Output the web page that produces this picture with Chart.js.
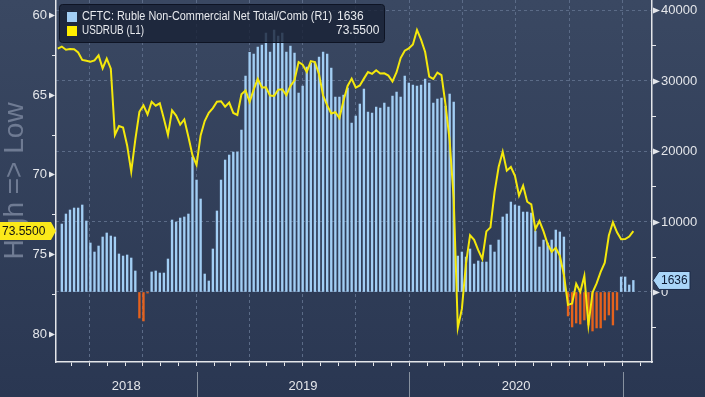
<!DOCTYPE html>
<html>
<head>
<meta charset="utf-8">
<script src="https://cdn.jsdelivr.net/npm/chart.js@4.4.1/dist/chart.umd.min.js"></script>
<style>
  html, body { margin: 0; padding: 0; background: #2f3c57; }
</style>
</head>
<body>
<canvas id="chart" width="705" height="397"></canvas>
<script>
// weekly CFTC report dates (Tuesdays) and weekly USDRUB closes
const cftcFirstDate = "2018-05-15";
const rubFirstDate = "2018-05-08";
const axisStart = "2018-05-05";
const axisEnd = "2021-02-20";

const cftcNet = [
  9640, 11060, 11630, 11910, 11910, 12340, 10070, 6950, 5670, 6520,
  7800, 8370, 7940, 7800, 5390, 5100, 5250, 4820, 2980, -3690,
  -4110, -150, 2840, 2980, 2690, 2690, 4680, 10210, 9930, 10490,
  10640, 11060, 19140, 15880, 13190, 2550, 1560, 6100, 11490, 15880,
  18720, 19430, 19850, 19850, 22970, 30630, 34000, 33750, 34740, 35020,
  36730, 34030, 37150, 36300, 36730, 34030, 34880, 33890, 28220, 29210,
  31910, 32470, 32610, 33320, 34030, 33750, 31760, 27650, 27650, 27930,
  28930, 23960, 24960, 26660, 28790, 25520, 25380, 26230, 26090, 26800,
  26230, 27790, 28360, 27650, 30630, 29640, 29350, 29210, 29350, 30200,
  29640, 26800, 27370, 27510, 26370, 28080, 26940, 5100, 5670, 4960,
  6100, 3970, 4400, 4250, 4250, 6660, 5670, 7370, 10640, 11060,
  12760, 12340, 12190, 11340, 11340, 11200, 8650, 6380, 7370, 6950,
  7370, 8790, 8510, 7800, -3400, -4960, -4400, -4540, -3970, -4680,
  -5530, -5100, -5100, -3970, -3260, -4680, -2550, 2130, 2130, 990,
  1636
];

const usdRub = [
  62.11, 61.98, 62.18, 62.13, 62.15, 62.35, 62.82, 62.87, 62.93, 62.85,
  62.53, 63.34, 62.73, 63.37, 67.52, 66.96, 67.06, 68.18, 69.82, 67.81,
  66.07, 65.67, 66.24, 65.44, 65.69, 65.54, 66.50, 67.52, 65.98, 66.31,
  66.87, 66.55, 67.63, 68.79, 69.40, 67.55, 66.65, 66.13, 65.84, 65.44,
  65.41, 65.75, 65.49, 66.14, 66.27, 64.97, 64.73, 65.45, 64.68, 64.00,
  64.54, 64.53, 65.05, 65.08, 64.68, 64.66, 65.03, 64.46, 64.09, 62.95,
  63.12, 63.57, 62.89, 62.95, 63.71, 65.05, 65.67, 66.18, 66.10, 66.46,
  65.38, 64.45, 63.99, 64.56, 64.42, 63.99, 63.58, 63.69, 63.47, 63.67,
  63.66, 63.80, 64.17, 63.59, 62.70, 62.24, 62.09, 61.85, 60.94, 61.55,
  62.32, 63.87, 64.01, 63.61, 63.77, 65.64, 67.87, 71.54, 79.62, 78.43,
  75.59, 73.81, 74.10, 74.75, 75.30, 73.57, 73.32, 71.12, 69.53, 68.57,
  69.76, 69.53, 70.09, 71.32, 70.70, 71.71, 71.88, 73.42, 72.92, 73.57,
  74.36, 74.85, 74.60, 75.10, 76.30, 78.18, 78.09, 76.85, 77.37, 76.36,
  79.44, 77.40, 76.83, 76.11, 75.53, 73.83, 73.00, 73.63, 74.06, 74.05,
  73.89, 73.55
];

const leftTicks = [60, 65, 70, 75, 80];
const rightTicks = [0, 10000, 20000, 30000, 40000];
const yearLabels = ["2018", "2019", "2020"];
const cftcLabel = "CFTC: Ruble Non-Commercial Net Total/Comb (R1)";
const rubLabel = "USDRUB (L1)";
const cftcLast = "1636";
const rubLast = "73.5500";
const axisTitle = "High => Low";

const BLUE = "#a2cef4";
const ORANGE = "#e5621d";
const YELLOW = "#f4e80c";
const GRID = "#5b6b87";
const AXIS = "#e4e6ea";

const DAY = 86400000;
const epoch = Date.UTC(2018, 0, 1);
function dayNumber(iso) {
  const [y, m, d] = iso.split("-").map(Number);
  return (Date.UTC(y, m - 1, d) - epoch) / DAY;
}

const xMin = dayNumber(axisStart);
const xMax = dayNumber(axisEnd);

const cftcPoints = cftcNet.map((v, i) => ({ x: dayNumber(cftcFirstDate) + 7 * i, y: v }));
const rubPoints = usdRub.map((v, i) => ({ x: dayNumber(rubFirstDate) + 7 * i, y: v }));

// month ticks on the time axis, quarters get a dashed grid line
const monthTicks = [];
for (let y = 2018; y <= 2021; y++) {
  for (let m = 0; m < 12; m++) {
    const v = (Date.UTC(y, m, 1) - epoch) / DAY;
    if (v > xMin && v < xMax) monthTicks.push({ value: v, quarter: m % 3 === 0 });
  }
}

const bgPlugin = {
  id: "bg",
  beforeDraw(chart) {
    const { ctx, width, height } = chart;
    const g = ctx.createLinearGradient(0, 0, 0, height);
    g.addColorStop(0, "#3a4862");
    g.addColorStop(1, "#2a3752");
    ctx.save();
    ctx.fillStyle = g;
    ctx.fillRect(0, 0, width, height);
    ctx.restore();
  },
};

const decoPlugin = {
  id: "deco",
  afterDraw(chart) {
    const { ctx, chartArea: a, scales } = chart;
    const yL = scales.yL, yR = scales.yR, x = scales.x;
    ctx.save();

    // rotated axis title (behind the value tag)
    ctx.save();
    ctx.translate(15, 181);
    ctx.rotate(-Math.PI / 2);
    ctx.textAlign = "center";
    ctx.textBaseline = "middle";
    ctx.font = "28px 'Liberation Sans', Arial, sans-serif";
    ctx.fillStyle = "#6f7b93";
    ctx.fillText(axisTitle, 0, 0);
    ctx.restore();

    ctx.fillStyle = AXIS;
    ctx.strokeStyle = AXIS;
    ctx.lineWidth = 1;
    ctx.font = "13px 'Liberation Sans', Arial, sans-serif";
    ctx.textBaseline = "middle";

    // left axis
    ctx.textAlign = "right";
    leftTicks.forEach((v) => {
      const y = Math.round(yL.getPixelForValue(v)) + 0.5;
      ctx.beginPath();
      ctx.moveTo(a.left - 1, y);
      ctx.lineTo(a.left - 7, y - 3);
      ctx.lineTo(a.left - 7, y + 3);
      ctx.closePath();
      ctx.fill();
      ctx.fillText(String(v), a.left - 9, y);
      const ym = Math.round(yL.getPixelForValue(v + 2.5)) + 0.5;
      if (ym < a.bottom) {
        ctx.beginPath();
        ctx.moveTo(a.left - 4, ym);
        ctx.lineTo(a.left, ym);
        ctx.stroke();
      }
    });

    // right axis
    ctx.textAlign = "left";
    rightTicks.forEach((v) => {
      const y = Math.round(yR.getPixelForValue(v)) + 0.5;
      ctx.beginPath();
      ctx.moveTo(a.right + 8, y);
      ctx.lineTo(a.right + 1, y - 3);
      ctx.lineTo(a.right + 1, y + 3);
      ctx.closePath();
      ctx.fill();
      ctx.fillText(String(v), a.right + 9, y);
    });
    [-5000, 5000, 15000, 25000, 35000].forEach((v) => {
      const y = Math.round(yR.getPixelForValue(v)) + 0.5;
      ctx.beginPath();
      ctx.moveTo(a.right, y);
      ctx.lineTo(a.right + 4, y);
      ctx.stroke();
    });

    // years under the time axis
    ctx.textAlign = "center";
    ctx.strokeStyle = "#87919f";
    const yearStarts = [2018, 2019, 2020, 2021, 2022].map((yy) => (Date.UTC(yy, 0, 1) - epoch) / DAY);
    yearStarts.forEach((d, i) => {
      if (d > xMin && d < xMax) {
        const px = Math.round(x.getPixelForValue(d)) + 0.5;
        ctx.beginPath();
        ctx.moveTo(px, a.bottom + 10);
        ctx.lineTo(px, chart.height);
        ctx.stroke();
      }
      const next = yearStarts[i + 1];
      if (next === undefined || !yearLabels[i]) return;
      const p0 = x.getPixelForValue(Math.max(d, xMin));
      const p1 = x.getPixelForValue(Math.min(next, xMax));
      if (p1 - p0 > 60) ctx.fillText(yearLabels[i], (p0 + p1) / 2, a.bottom + 24);
    });

    // legend box
    ctx.fillStyle = "rgba(24, 33, 52, 0.8)";
    ctx.strokeStyle = "#0e1424";
    ctx.beginPath();
    ctx.roundRect(59.5, 4.5, 325, 38, 3);
    ctx.fill();
    ctx.stroke();
    ctx.fillStyle = BLUE;
    ctx.fillRect(67, 12, 10, 10);
    ctx.fillStyle = "#ffee00";
    ctx.fillRect(67, 26, 10, 10);
    ctx.fillStyle = "#e8eaee";
    ctx.textAlign = "left";
    ctx.font = "12px 'Liberation Sans', Arial, sans-serif";
    ctx.fillText(cftcLabel, 82, 17, 250);
    ctx.fillText(rubLabel, 82, 31, 62);
    ctx.fillText(cftcLast, 337, 17);
    ctx.fillText(rubLast, 336, 31);

    // last value tags
    const yl = yL.getPixelForValue(usdRub[usdRub.length - 1]);
    ctx.fillStyle = "#fbe91a";
    ctx.beginPath();
    ctx.moveTo(0, yl - 9);
    ctx.lineTo(51, yl - 9);
    ctx.lineTo(56, yl);
    ctx.lineTo(51, yl + 9);
    ctx.lineTo(0, yl + 9);
    ctx.closePath();
    ctx.fill();
    ctx.fillStyle = "#111111";
    ctx.fillText(rubLast, 2, yl + 0.5);

    const yr = yR.getPixelForValue(cftcNet[cftcNet.length - 1]);
    ctx.fillStyle = "#a9d5f8";
    ctx.strokeStyle = "#1b2a48";
    ctx.beginPath();
    ctx.moveTo(a.right + 1, yr);
    ctx.lineTo(a.right + 7, yr - 9);
    ctx.lineTo(690, yr - 9);
    ctx.lineTo(690, yr + 9);
    ctx.lineTo(a.right + 7, yr + 9);
    ctx.closePath();
    ctx.fill();
    ctx.stroke();
    ctx.fillStyle = "#0c1a33";
    ctx.fillText(cftcLast, a.right + 9, yr + 0.5);
    ctx.restore();
  },
};

const ctx = document.getElementById("chart").getContext("2d");
new Chart(ctx, {
  type: "bar",
  data: {
    datasets: [
      {
        type: "line",
        label: rubLabel,
        data: rubPoints,
        yAxisID: "yL",
        borderColor: YELLOW,
        borderWidth: 2,
        pointRadius: 0,
        tension: 0,
        order: 0,
      },
      {
        type: "bar",
        label: cftcLabel,
        data: cftcPoints,
        yAxisID: "yR",
        backgroundColor: cftcNet.map((v) => (v < 0 ? ORANGE : BLUE)),
        barThickness: 1.7,
        order: 1,
      },
    ],
  },
  options: {
    responsive: false,
    animation: false,
    devicePixelRatio: 1,
    layout: { padding: 0 },
    plugins: {
      legend: { display: false },
      tooltip: { enabled: false },
    },
    scales: {
      x: {
        type: "linear",
        position: "bottom",
        offset: false,
        min: xMin,
        max: xMax,
        ticks: { display: false },
        afterBuildTicks: (s) => {
          s.ticks = monthTicks.map((t) => ({ value: t.value }));
        },
        afterFit: (s) => {
          s.height = 35;
        },
        grid: {
          offset: false,
          color: (c) => (monthTicks[c.index] && monthTicks[c.index].quarter ? GRID : "rgba(0,0,0,0)"),
          tickColor: AXIS,
          tickLength: 4,
          lineWidth: 1,
        },
        border: { display: true, color: AXIS, width: 1.5, dash: [3, 3] },
      },
      yL: {
        type: "linear",
        position: "left",
        reverse: true,
        min: 59.06,
        max: 81.76,
        ticks: { display: false },
        afterBuildTicks: (s) => {
          s.ticks = leftTicks.map((v) => ({ value: v }));
        },
        afterFit: (s) => {
          s.width = 56;
        },
        grid: { drawOnChartArea: false, drawTicks: false },
        border: { display: true, color: AXIS, width: 1.5 },
      },
      yR: {
        type: "linear",
        position: "right",
        min: -9930,
        max: 41420,
        ticks: { display: false },
        afterBuildTicks: (s) => {
          s.ticks = rightTicks.map((v) => ({ value: v }));
        },
        afterFit: (s) => {
          s.width = 53;
        },
        grid: { drawOnChartArea: true, drawTicks: false, color: GRID, lineWidth: 1 },
        border: { display: true, color: AXIS, width: 1.5, dash: [3, 3] },
      },
    },
  },
  plugins: [bgPlugin, decoPlugin],
});
</script>
</body>
</html>
